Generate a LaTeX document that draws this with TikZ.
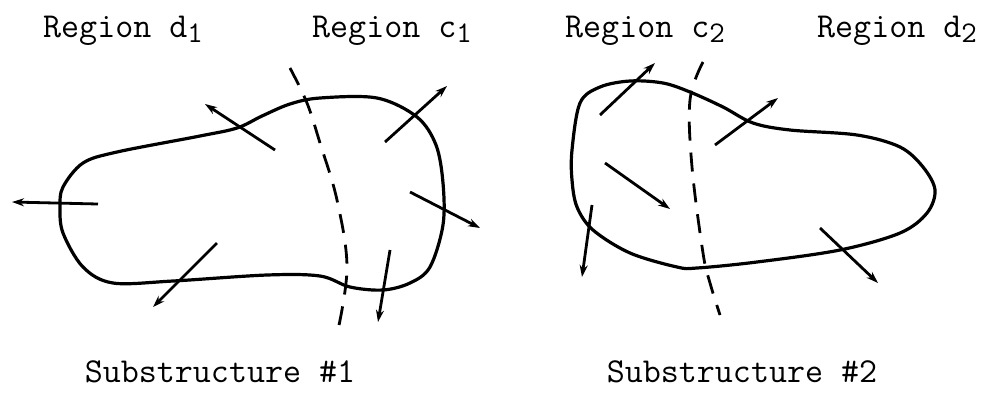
\documentclass[tikz,border=0pt]{standalone}
\usetikzlibrary{arrows.meta}
\tikzset{
  outline/.style={line width=3.2pt, line join=round},
  cut/.style={line width=2.8pt, dash pattern=on 19pt off 12pt},
  flux/.style={line width=2.8pt, -{Stealth[length=12pt,width=8pt]}},
  lbl/.style={font=\ttfamily\fontsize{35}{35}\selectfont, inner sep=0pt, anchor=base}
}
\newcommand{\lowsub}[1]{\raisebox{-0.35ex}{\fontsize{30}{30}\selectfont #1}}
\begin{document}
\begin{tikzpicture}[x=1pt,y=-1pt]
\useasboundingbox (0,0) rectangle (987,392);
% labels
\node[lbl] (rd1) at (123,37) {Region d\lowsub{1}};
\node[lbl] (rc1) at (392,37) {Region c\lowsub{1}};
\node[lbl] (rc2) at (645,37) {Region c\lowsub{2}};
\node[lbl] (rd2) at (897,37) {Region d\lowsub{2}};
\node[lbl] (s1) at (220,382) {Substructure \#1};
\node[lbl] (s2) at (742,382) {Substructure \#2};
% substructure 1
\draw[outline] plot[smooth cycle, tension=0.55] coordinates {
 (60,207) (63,187) (83,163) (117,152) (200,136) (237,128) (262,116)
 (290,104) (320,98) (377,98) (417,117) (436,145) (443,183) (443,225) (430,267)
 (410,283) (383,290) (350,287) (320,276) (267,275) (173,281) (113,283)
 (83,267) (63,233)};
\draw[cut] plot[smooth, tension=0.6] coordinates {
 (290,68) (307,103) (320,143) (337,200) (347,267) (338,330)};
\coordinate (a1s) at (98,204);  \coordinate (a1e) at (12,202);
\coordinate (a2s) at (275,150); \coordinate (a2e) at (205,104);
\coordinate (a3s) at (385,142); \coordinate (a3e) at (447,86);
\coordinate (a4s) at (410,192); \coordinate (a4e) at (480,228);
\coordinate (a5s) at (390,250); \coordinate (a5e) at (378,322);
\coordinate (a6s) at (217,243); \coordinate (a6e) at (153,307);
\foreach \i in {1,...,6} \draw[flux] (a\i s) -- (a\i e);
% substructure 2
\draw[outline] plot[smooth cycle, tension=0.55] coordinates {
 (572,150) (580,103) (600,87) (630,81) (663,83) (690,92) (723,107)
 (753,123) (790,130) (857,135) (900,147) (923,167) (935,190) (927,213)
 (900,233) (840,250) (757,262) (697,268) (677,267) (630,253) (593,230)
 (577,207) (572,180)};
\draw[cut] plot[smooth, tension=0.6] coordinates {
 (703,62) (690,100) (692,167) (703,253) (710,283) (720,315)};
\coordinate (b1s) at (600,115); \coordinate (b1e) at (655,63);
\coordinate (b2s) at (715,145); \coordinate (b2e) at (778,98);
\coordinate (b3s) at (605,163); \coordinate (b3e) at (670,209);
\coordinate (b4s) at (592,205); \coordinate (b4e) at (582,277);
\coordinate (b5s) at (820,228); \coordinate (b5e) at (878,283);
\foreach \i in {1,...,5} \draw[flux] (b\i s) -- (b\i e);
\end{tikzpicture}
\end{document}
